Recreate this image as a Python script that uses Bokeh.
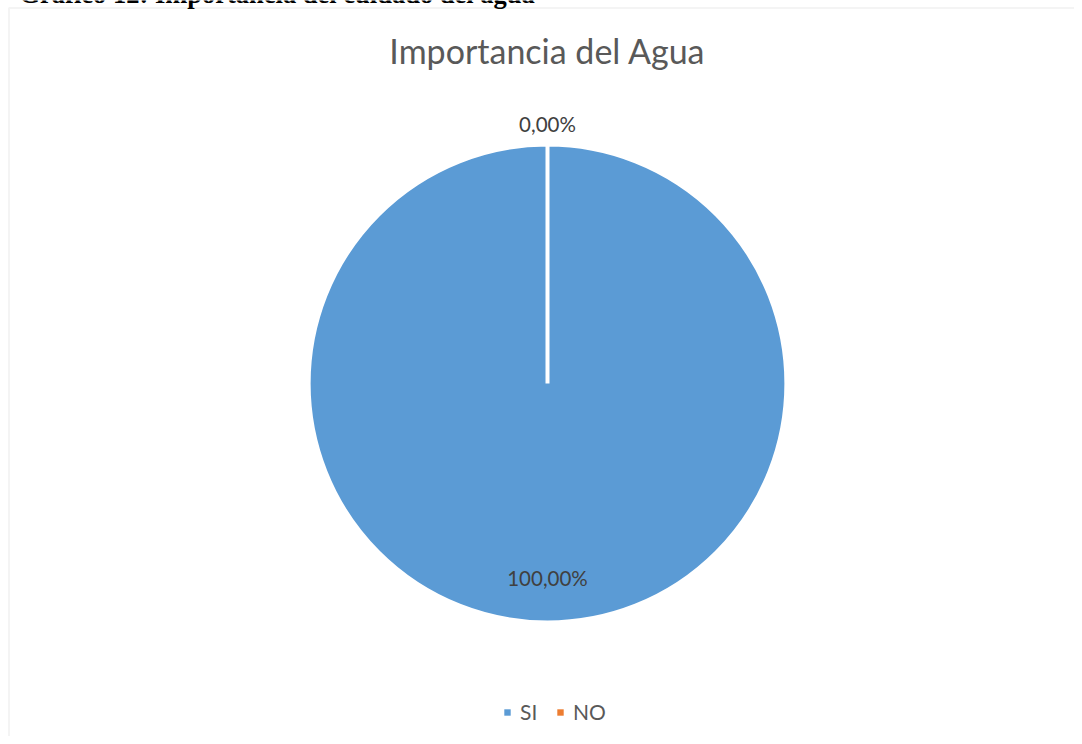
import numpy as np
from bokeh.plotting import figure
from bokeh.models import (Range1d, Label, BoxAnnotation, Legend, LegendItem,
                          ColumnDataSource, CDSView, BooleanFilter)
from bokeh.core.properties import value
from bokeh.embed import file_html
from bokeh.resources import INLINE

# ---- data ----
categories = ["SI", "NO"]
values = [100.0, 0.0]
labels = ["100,00%", "0,00%"]
colors = ["#5b9bd5", "#ed7d31"]
chart_title = "Importancia del Agua"
header = "Gráfico 12: Importancia del cuidado del agua"

W, H = 1074, 736
p = figure(width=W, height=H, output_backend="svg", toolbar_location=None,
           x_range=Range1d(0, W), y_range=Range1d(0, H),
           min_border=0, outline_line_color=None)
p.axis.visible = False
p.grid.visible = False
p.background_fill_color = "white"
p.border_fill_color = "white"

def py(yy):
    return H - yy

# chart box
p.add_layout(BoxAnnotation(left=8.5, right=1200, top=py(7.5), bottom=-50,
                           fill_color=None, line_color="#d9d9d9", line_width=2))

# header (cut off at top as in the source)
p.add_layout(Label(x=19, y=py(-7), text=header,
                   text_font="Liberation Serif", text_font_style="bold",
                   text_font_size="26.5px", text_color="black",
                   text_baseline="alphabetic", text_align="left"))

# pie
cx, cy, r = 547, py(383), 237.5
vals = np.array(values)
frac = vals / vals.sum()
ends = np.cumsum(frac) * 2 * np.pi
starts = ends - frac * 2 * np.pi
start_angle = np.round((np.pi / 2 - starts) % (2 * np.pi), 12)
end_angle = np.round((np.pi / 2 - ends) % (2 * np.pi), 12)
src = ColumnDataSource(dict(x=[cx] * len(vals), y=[cy] * len(vals),
                            start=start_angle, end=end_angle, color=colors,
                            cat=categories))
view = CDSView(filter=BooleanFilter([bool(f > 0) for f in frac]))
p.wedge(x="x", y="y", radius=r + 1.5, start_angle="start", end_angle="end",
        direction="clock", fill_color="color", line_color="white", line_width=4,
        source=src, view=view)

# data labels
mid = np.pi / 2 - (starts + ends) / 2
lx, ly = [], []
for m, f in zip(mid, frac):
    k = 0.82 if f > 0.0 else 1.094
    lx.append(cx + k * r * np.cos(m))
    ly.append(cy + k * r * np.sin(m))
p.text(x=lx, y=ly, text=labels, text_font=value("Lato"), text_font_size="20.5px",
       text_color="#404040", text_align="center", text_baseline="middle")

# title
p.add_layout(Label(x=cx, y=py(50), text=chart_title, text_font="Lato",
                   text_font_size="34px", text_color="#595959",
                   text_align="center", text_baseline="middle"))

# legend
items = []
for c, col in zip(categories, colors):
    rr = p.quad(left=[np.nan], right=[np.nan], top=[np.nan], bottom=[np.nan],
                fill_color=col, line_color=None)
    items.append(LegendItem(label=c, renderers=[rr]))
leg = Legend(items=items, orientation="horizontal", location=(503, 12),
             glyph_width=8, glyph_height=8, label_standoff=9, spacing=16,
             padding=0, margin=0, border_line_color=None, background_fill_alpha=0,
             label_text_font="Lato", label_text_font_size="21px",
             label_text_color="#595959", label_height=20)
p.add_layout(leg)

open("out.html", "w").write(file_html(p, INLINE))
